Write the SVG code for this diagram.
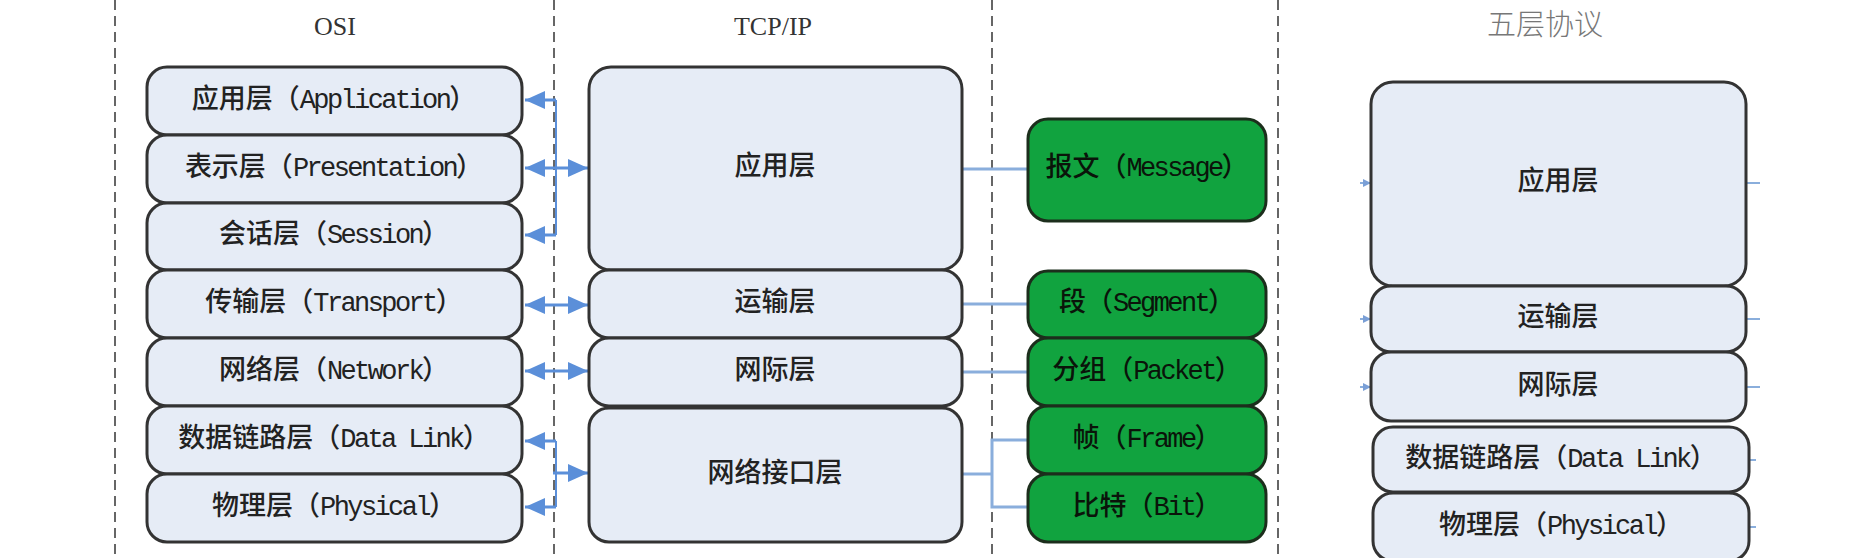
<svg xmlns="http://www.w3.org/2000/svg" width="1860" height="558" viewBox="0 0 1860 558">
<style>
.bg{fill:#ffffff}
.div{stroke:#666;stroke-width:2;stroke-dasharray:10 6;fill:none}
.box{fill:#e6ecf6;stroke:#333;stroke-width:3}
.gbox{fill:#11a33f;stroke:#1c2e1c;stroke-width:3}
.lbl{font-family:"Liberation Mono","Noto Sans CJK SC",monospace;font-size:27px;font-weight:500;fill:#222;text-anchor:middle;dominant-baseline:central}
.lat{letter-spacing:-2.6px}
.glbl{fill:#0a140a}
.ttl{font-family:"Liberation Serif","Noto Sans CJK SC",serif;font-size:26px;fill:#333;text-anchor:middle}
.ttl2{font-family:"Noto Sans CJK SC",sans-serif;font-size:29px;fill:#777;text-anchor:middle;font-weight:300}
.arr{stroke:#5b8fd9;stroke-width:3;fill:none}
.brk{stroke:#5b8fd9;stroke-width:2;fill:none}
.con{stroke:#8aaedc;stroke-width:3;fill:none}
.tick{stroke:#8aaedc;stroke-width:2;fill:none}
</style>
<defs>
<marker id="ah" viewBox="0 0 20 18" refX="20" refY="9" markerWidth="20" markerHeight="18" markerUnits="userSpaceOnUse" orient="auto-start-reverse">
<path d="M0,0 L20,9 L0,18 z" fill="#5b8fd9"/>
</marker>
<marker id="sh" viewBox="0 0 8 8" refX="8" refY="4" markerWidth="8" markerHeight="8" markerUnits="userSpaceOnUse" orient="auto">
<path d="M0,0 L8,4 L0,8 z" fill="#7a9fd6"/>
</marker>
</defs>
<rect class="bg" x="0" y="0" width="1860" height="558"/>

<g id="dividers">
<line class="div" x1="115" y1="0" x2="115" y2="558"/>
<line class="div" x1="554" y1="0" x2="554" y2="558"/>
<line class="div" x1="992" y1="0" x2="992" y2="558"/>
<line class="div" x1="1278" y1="0" x2="1278" y2="558"/>
</g>

<g id="titles">
<text class="ttl" x="335" y="35">OSI</text>
<text class="ttl" x="773" y="35">TCP/IP</text>
<text class="ttl2" x="1545" y="35">五层协议</text>
</g>

<g id="connectors">
<line class="brk" x1="556" y1="100" x2="556" y2="235"/>
<line class="arr" x1="556" y1="100" x2="525" y2="100" marker-end="url(#ah)"/>
<line class="arr" x1="525" y1="168" x2="588" y2="168" marker-start="url(#ah)" marker-end="url(#ah)"/>
<line class="arr" x1="556" y1="235" x2="525" y2="235" marker-end="url(#ah)"/>
<line class="arr" x1="525" y1="305" x2="588" y2="305" marker-start="url(#ah)" marker-end="url(#ah)"/>
<line class="arr" x1="525" y1="371" x2="588" y2="371" marker-start="url(#ah)" marker-end="url(#ah)"/>
<line class="brk" x1="556" y1="441" x2="556" y2="507"/>
<line class="arr" x1="556" y1="441" x2="525" y2="441" marker-end="url(#ah)"/>
<line class="arr" x1="553" y1="473" x2="588" y2="473" marker-end="url(#ah)"/>
<line class="arr" x1="556" y1="507" x2="525" y2="507" marker-end="url(#ah)"/>
<line class="con" x1="962" y1="169" x2="1028" y2="169"/>
<line class="con" x1="962" y1="304" x2="1028" y2="304"/>
<line class="con" x1="962" y1="372" x2="1028" y2="372"/>
<polyline class="con" points="962,474 992,474"/>
<polyline class="con" points="1028,440 992,440 992,507 1028,507"/>
<line class="tick" x1="1360" y1="183" x2="1371" y2="183" marker-end="url(#sh)"/>
<line class="tick" x1="1360" y1="319" x2="1371" y2="319" marker-end="url(#sh)"/>
<line class="tick" x1="1360" y1="387" x2="1371" y2="387" marker-end="url(#sh)"/>
<line class="tick" x1="1746" y1="183" x2="1760" y2="183"/>
<line class="tick" x1="1746" y1="319" x2="1760" y2="319"/>
<line class="tick" x1="1746" y1="387" x2="1760" y2="387"/>
<line class="tick" x1="1750" y1="460" x2="1756" y2="460"/>
<line class="tick" x1="1750" y1="527" x2="1756" y2="527"/>
</g>

<g id="osi-application"><rect class="box" x="147" y="67" width="375" height="68" rx="20"/><text class="lbl" x="334" y="101">应用层（<tspan class="lat">Application</tspan>）</text></g>
<g id="osi-presentation"><rect class="box" x="147" y="135" width="375" height="68" rx="20"/><text class="lbl" x="334" y="169">表示层（<tspan class="lat">Presentation</tspan>）</text></g>
<g id="osi-session"><rect class="box" x="147" y="203" width="375" height="67" rx="20"/><text class="lbl" x="334" y="236">会话层（<tspan class="lat">Session</tspan>）</text></g>
<g id="osi-transport"><rect class="box" x="147" y="270" width="375" height="68" rx="20"/><text class="lbl" x="334" y="304">传输层（<tspan class="lat">Transport</tspan>）</text></g>
<g id="osi-network"><rect class="box" x="147" y="338" width="375" height="68" rx="20"/><text class="lbl" x="334" y="372">网络层（<tspan class="lat">Network</tspan>）</text></g>
<g id="osi-datalink"><rect class="box" x="147" y="406" width="375" height="68" rx="20"/><text class="lbl" x="334" y="440">数据链路层（<tspan class="lat">Data Link</tspan>）</text></g>
<g id="osi-physical"><rect class="box" x="147" y="474" width="375" height="68" rx="20"/><text class="lbl" x="334" y="508">物理层（<tspan class="lat">Physical</tspan>）</text></g>

<g id="tcp-application"><rect class="box" x="589" y="67" width="373" height="203" rx="22"/><text class="lbl" x="775" y="168">应用层</text></g>
<g id="tcp-transport"><rect class="box" x="589" y="270" width="373" height="68" rx="20"/><text class="lbl" x="775" y="304">运输层</text></g>
<g id="tcp-internet"><rect class="box" x="589" y="338" width="373" height="68" rx="20"/><text class="lbl" x="775" y="372">网际层</text></g>
<g id="tcp-netif"><rect class="box" x="589" y="408" width="373" height="134" rx="20"/><text class="lbl" x="775" y="475">网络接口层</text></g>

<g id="pdu-message"><rect class="gbox" x="1028" y="119" width="238" height="102" rx="20"/><text class="lbl glbl" x="1147" y="169">报文（<tspan class="lat">Message</tspan>）</text></g>
<g id="pdu-segment"><rect class="gbox" x="1028" y="271" width="238" height="67" rx="20"/><text class="lbl glbl" x="1147" y="304">段（<tspan class="lat">Segment</tspan>）</text></g>
<g id="pdu-packet"><rect class="gbox" x="1028" y="338" width="238" height="68" rx="20"/><text class="lbl glbl" x="1147" y="372">分组（<tspan class="lat">Packet</tspan>）</text></g>
<g id="pdu-frame"><rect class="gbox" x="1028" y="406" width="238" height="68" rx="20"/><text class="lbl glbl" x="1147" y="440">帧（<tspan class="lat">Frame</tspan>）</text></g>
<g id="pdu-bit"><rect class="gbox" x="1028" y="474" width="238" height="68" rx="20"/><text class="lbl glbl" x="1147" y="508">比特（<tspan class="lat">Bit</tspan>）</text></g>

<g id="five-application"><rect class="box" x="1371" y="82" width="375" height="204" rx="22"/><text class="lbl" x="1558" y="183">应用层</text></g>
<g id="five-transport"><rect class="box" x="1371" y="286" width="375" height="66" rx="20"/><text class="lbl" x="1558" y="319">运输层</text></g>
<g id="five-internet"><rect class="box" x="1371" y="352" width="375" height="69" rx="20"/><text class="lbl" x="1558" y="387">网际层</text></g>
<g id="five-datalink"><rect class="box" x="1373" y="427" width="376" height="65" rx="20"/><text class="lbl" x="1561" y="460">数据链路层（<tspan class="lat">Data Link</tspan>）</text></g>
<g id="five-physical"><rect class="box" x="1373" y="493" width="376" height="68" rx="20"/><text class="lbl" x="1561" y="527">物理层（<tspan class="lat">Physical</tspan>）</text></g>
</svg>
